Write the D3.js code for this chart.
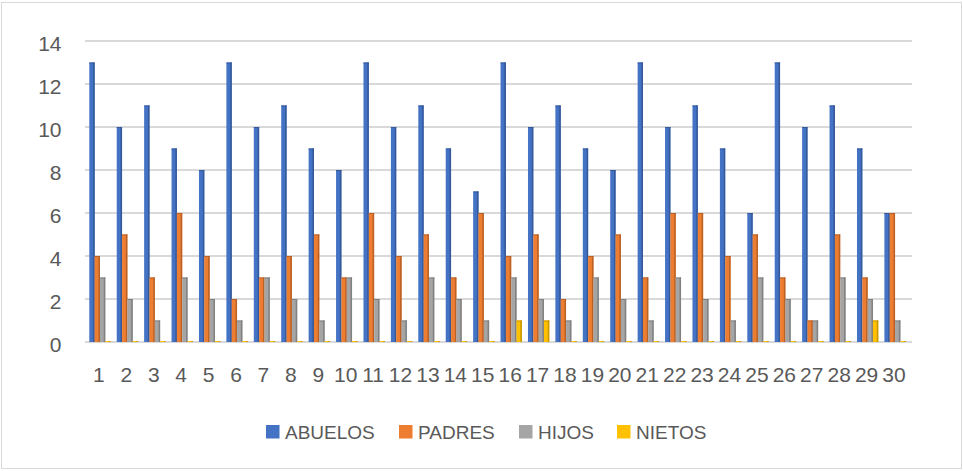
<!DOCTYPE html>
<html><head><meta charset="utf-8">
<script src="https://cdn.jsdelivr.net/npm/d3@7"></script>
<style>body{margin:0;background:#fff}svg{display:block}text{font-family:"Liberation Sans",Arial,sans-serif;fill:#595959}</style>
</head><body><svg id="c" width="963" height="471"></svg>
<script>
const categories = d3.range(1, 31).map(String);
const seriesNames = ["ABUELOS", "PADRES", "HIJOS", "NIETOS"];
const abuelos = [13,10,11,9,8,13,10,11,9,8,13,10,11,9,7,13,10,11,9,8,13,10,11,9,6,13,10,11,9,6];
const padres  = [4,5,3,6,4,2,3,4,5,3,6,4,5,3,6,4,5,2,4,5,3,6,6,4,5,3,1,5,3,6];
const hijos   = [3,2,1,3,2,1,3,2,1,3,2,1,3,2,1,3,2,1,3,2,1,3,2,1,3,2,1,3,2,1];
const nietos  = [0,0,0,0,0,0,0,0,0,0,0,0,0,0,0,1,1,0,0,0,0,0,0,0,0,0,0,0,1,0];
const yTicks = [0,2,4,6,8,10,12,14];
const colors = ["#4472C4", "#ED7D31", "#A5A5A5", "#FFC000"];
const seriesData = [abuelos, padres, hijos, nietos];

const svg = d3.select("#c");
svg.append("rect").attr("x",1.5).attr("y",2.5).attr("width",960).attr("height",466)
  .attr("fill","#fff").attr("stroke","#d9d9d9").attr("stroke-width",1);

const pL = 85, pR = 912, pT = 41, pB = 342;
const x = d3.scaleBand().domain(categories).range([pL, 910]).paddingInner(0.223).paddingOuter(0.157);
const xs = d3.scaleBand().domain(seriesNames).range([0, x.bandwidth()]);
const y = d3.scaleLinear().domain([0, 14]).range([pB, pT]);

// gridlines
svg.append("g").selectAll("line").data(yTicks).join("line")
  .attr("x1", pL).attr("x2", pR)
  .attr("y1", d => y(d)).attr("y2", d => y(d))
  .attr("stroke", "#d9d9d9").attr("stroke-width", 2);

// y labels
svg.append("g").selectAll("text").data(yTicks).join("text")
  .attr("x", 61.5).attr("y", d => y(d) + 9.5).attr("text-anchor", "end")
  .attr("font-size", 21).text(d => d);

// bars
const g = svg.append("g");
seriesData.forEach((vals, si) => {
  const col = d3.color(colors[si]);
  const dark = col.darker(0.7).formatHex();
  const grp = g.append("g");
  grp.selectAll("rect.f").data(vals).join("rect").attr("class","f")
    .attr("x", (d, i) => x(categories[i]) + xs(seriesNames[si]))
    .attr("y", d => Math.min(y(d), pB - 1))
    .attr("width", xs.bandwidth())
    .attr("height", d => Math.max(1, pB - y(d)))
    .attr("fill", colors[si]);
  grp.selectAll("rect.s").data(vals).join("rect").attr("class","s")
    .attr("x", (d, i) => x(categories[i]) + xs(seriesNames[si]) + xs.bandwidth() - 1.5)
    .attr("y", d => Math.min(y(d), pB - 1))
    .attr("width", 1.5)
    .attr("height", d => Math.max(1, pB - y(d)))
    .attr("fill", dark);
  grp.selectAll("rect.t").data(vals.map((v,i)=>[v,i]).filter(d=>d[0]>0)).join("rect").attr("class","t")
    .attr("x", d => x(categories[d[1]]) + xs(seriesNames[si]))
    .attr("y", d => y(d[0]))
    .attr("width", xs.bandwidth())
    .attr("height", 1)
    .attr("fill", dark);
});

// x labels
svg.append("g").selectAll("text").data(categories).join("text")
  .attr("x", d => x(d) + x.bandwidth() / 2 - 1).attr("y", 381.5)
  .attr("text-anchor", "middle").attr("font-size", 21).text(d => d);

// legend
const legX = [266, 399, 519, 617];
const lg = svg.append("g");
seriesNames.forEach((n, i) => {
  lg.append("rect").attr("x", legX[i]).attr("y", 425).attr("width", 13.5).attr("height", 13.5).attr("fill", colors[i]);
  lg.append("text").attr("x", legX[i] + 19).attr("y", 439).attr("font-size", 19).text(n);
});
</script></body></html>
